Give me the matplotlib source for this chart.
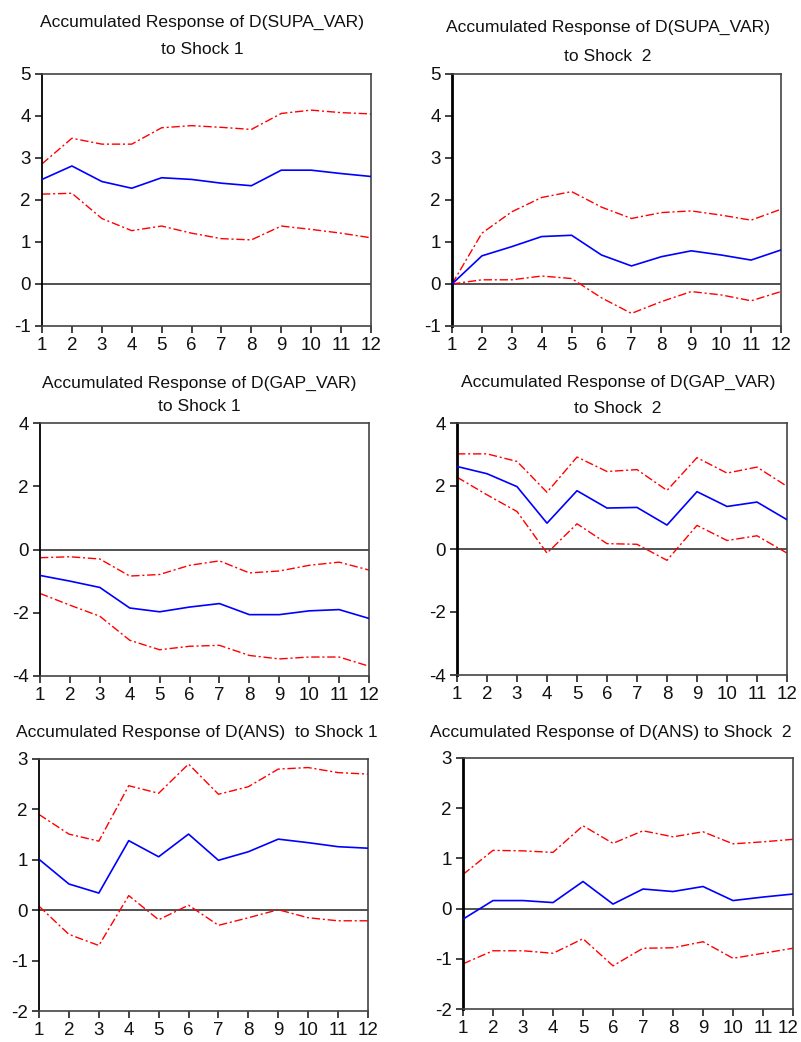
import matplotlib
matplotlib.use("Agg")
import matplotlib.pyplot as plt
import matplotlib.transforms as mtransforms

W, H = 801, 1042
steps = list(range(1, 13))

# Panel data: blue = response, upper/lower = confidence bands
supa_s1 = [2.49, 2.81, 2.44, 2.28, 2.53, 2.49, 2.40, 2.34, 2.71, 2.71, 2.63, 2.56]
supa_s1_up = [2.86, 3.47, 3.33, 3.33, 3.72, 3.77, 3.73, 3.68, 4.06, 4.14, 4.08, 4.05]
supa_s1_lo = [2.14, 2.16, 1.56, 1.27, 1.38, 1.21, 1.08, 1.05, 1.38, 1.30, 1.21, 1.10]

supa_s2 = [0.0, 0.67, 0.89, 1.13, 1.16, 0.69, 0.43, 0.65, 0.79, 0.69, 0.57, 0.81]
supa_s2_up = [0.0, 1.21, 1.72, 2.06, 2.20, 1.83, 1.56, 1.70, 1.74, 1.64, 1.52, 1.78]
supa_s2_lo = [0.0, 0.10, 0.10, 0.19, 0.13, -0.33, -0.70, -0.42, -0.18, -0.26, -0.40, -0.18]

gap_s1 = [-0.82, -1.00, -1.20, -1.85, -1.97, -1.82, -1.71, -2.06, -2.06, -1.94, -1.90, -2.18]
gap_s1_up = [-0.26, -0.23, -0.30, -0.84, -0.79, -0.50, -0.36, -0.74, -0.68, -0.50, -0.40, -0.65]
gap_s1_lo = [-1.39, -1.76, -2.11, -2.87, -3.17, -3.06, -3.03, -3.35, -3.46, -3.40, -3.40, -3.69]

gap_s2 = [2.62, 2.39, 1.98, 0.82, 1.85, 1.30, 1.32, 0.76, 1.82, 1.35, 1.49, 0.93]
gap_s2_up = [3.02, 3.02, 2.78, 1.80, 2.92, 2.46, 2.52, 1.86, 2.90, 2.41, 2.60, 1.99]
gap_s2_lo = [2.28, 1.72, 1.19, -0.13, 0.80, 0.17, 0.15, -0.36, 0.75, 0.27, 0.42, -0.13]

ans_s1 = [1.01, 0.52, 0.34, 1.38, 1.06, 1.51, 0.99, 1.16, 1.41, 1.34, 1.26, 1.23]
ans_s1_up = [1.90, 1.51, 1.37, 2.47, 2.32, 2.90, 2.30, 2.45, 2.80, 2.83, 2.73, 2.70]
ans_s1_lo = [0.08, -0.48, -0.70, 0.29, -0.19, 0.10, -0.30, -0.15, 0.01, -0.15, -0.21, -0.21]

ans_s2 = [-0.21, 0.16, 0.16, 0.12, 0.54, 0.09, 0.39, 0.34, 0.44, 0.16, 0.23, 0.29]
ans_s2_up = [0.68, 1.16, 1.15, 1.12, 1.65, 1.30, 1.55, 1.43, 1.53, 1.29, 1.33, 1.38]
ans_s2_lo = [-1.10, -0.84, -0.84, -0.89, -0.60, -1.14, -0.79, -0.78, -0.66, -0.99, -0.89, -0.79]

titles = [
    ["Accumulated Response of D(SUPA_VAR)", "to Shock 1"],
    ["Accumulated Response of D(SUPA_VAR)", "to Shock  2"],
    ["Accumulated Response of D(GAP_VAR)", "to Shock 1"],
    ["Accumulated Response of D(GAP_VAR)", "to Shock  2"],
    ["Accumulated Response of D(ANS)  to Shock 1"],
    ["Accumulated Response of D(ANS) to Shock  2"],
]

series = [
    (supa_s1, supa_s1_up, supa_s1_lo),
    (supa_s2, supa_s2_up, supa_s2_lo),
    (gap_s1, gap_s1_up, gap_s1_lo),
    (gap_s2, gap_s2_up, gap_s2_lo),
    (ans_s1, ans_s1_up, ans_s1_lo),
    (ans_s2, ans_s2_up, ans_s2_lo),
]

ylims = [(-1, 5), (-1, 5), (-4, 4), (-4, 4), (-2, 3), (-2, 3)]
yticks = [[-1, 0, 1, 2, 3, 4, 5], [-1, 0, 1, 2, 3, 4, 5],
          [-4, -2, 0, 2, 4], [-4, -2, 0, 2, 4],
          [-2, -1, 0, 1, 2, 3], [-2, -1, 0, 1, 2, 3]]

# layout in pixels: (left, top, right, bottom)
boxes = [(42, 74, 371, 326), (452, 74, 781, 326),
         (40, 423, 369, 676), (457, 423, 787, 675),
         (39, 759, 368, 1011), (463, 758, 793, 1009)]
# title positions: (x center, [baselines])
title_pos = [(202, [27, 54]), (608, [32, 61]),
             (199, [388, 411]), (618, [387, 413]),
             (197, [737]), (611, [737])]
left_lw = [1.3, 2.0, 1.3, 2.0, 1.3, 2.0]

plt.rcParams["font.family"] = ["Liberation Sans", "DejaVu Sans"]

fig = plt.figure(figsize=(W / 100, H / 100), dpi=100)
red_ls = (0, (6, 2, 1.5, 2))
for i in range(6):
    l, t, r, b = boxes[i]
    ax = fig.add_axes([l / W, 1 - b / H, (r - l) / W, (b - t) / H])
    mid, up, lo = series[i]
    ax.axhline(0, color="#333333", lw=1.2, zorder=1)
    ax.plot(steps, up, color="#ff0000", lw=1.0, ls=red_ls, zorder=2)
    ax.plot(steps, lo, color="#ff0000", lw=1.0, ls=red_ls, zorder=2)
    ax.plot(steps, mid, color="#0000ff", lw=1.2, zorder=3)
    ax.set_xlim(1, 12)
    ax.set_ylim(*ylims[i])
    ax.set_xticks(steps)
    ax.set_yticks(yticks[i])
    ax.set_yticklabels([str(v) for v in yticks[i]])
    ax.tick_params(axis="both", direction="out", length=5, width=1.2,
                   color="#222222", labelsize=13.5, labelcolor="#111111", pad=3)
    for name, sp in ax.spines.items():
        sp.set_color("#444444")
        sp.set_linewidth(1.2)
    ax.spines["left"].set_color("#000000")
    ax.spines["left"].set_linewidth(left_lw[i])
    if i == 5:
        lab = ax.get_xticklabels()[-1]
        lab.set_transform(lab.get_transform() +
                          mtransforms.ScaledTranslation(-5 / 100, 0, fig.dpi_scale_trans))
    xc, bls = title_pos[i]
    for txt, bl in zip(titles[i], bls):
        fig.text(xc / W, 1 - bl / H, txt, ha="center", va="baseline",
                 fontsize=12.6, color="#111111")

fig.savefig("out.png", dpi=100)
